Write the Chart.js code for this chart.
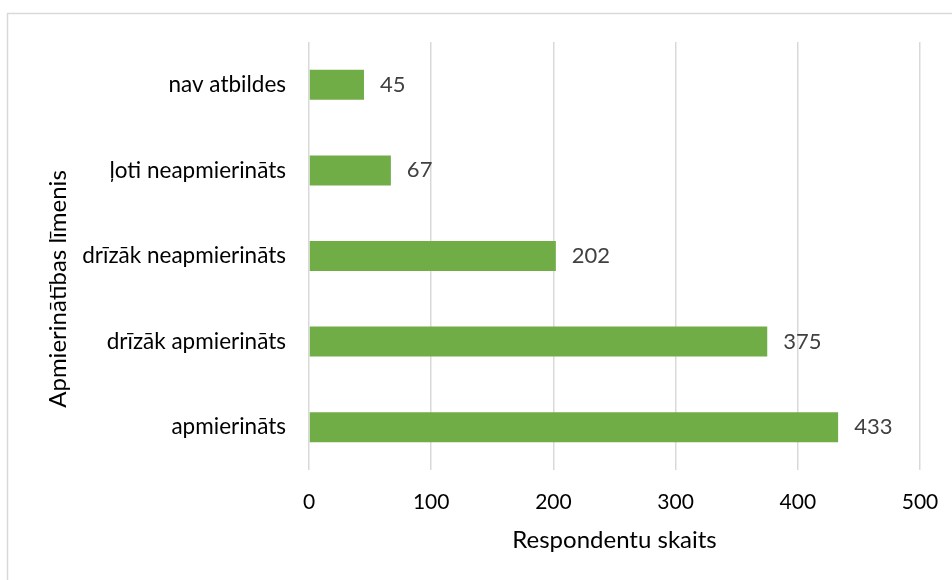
<!DOCTYPE html>
<html>
<head>
<meta charset="utf-8">
<script src="https://cdn.jsdelivr.net/npm/chart.js@4.4.1/dist/chart.umd.min.js"></script>
<style>
    html, body { margin: 0; padding: 0; background: #ffffff; }
    #wrap { width: 952px; height: 580px; }
</style>
</head>
<body>
<div id="wrap"><canvas id="grafiks" width="952" height="580"></canvas></div>
<script>
// dati
const kategorijas = ['nav atbildes', 'ļoti neapmierināts', 'drīzāk neapmierināts', 'drīzāk apmierināts', 'apmierināts'];
const respondenti = [45, 67, 202, 375, 433];
const xTicks = [0, 100, 200, 300, 400, 500];

const fonts = 'Lato, "Open Sans", sans-serif';

// rāmis ap diagrammu
const ramisPlugin = {
    id: 'ramis',
    beforeDraw(chart) {
        const ctx = chart.ctx;
        ctx.save();
        ctx.strokeStyle = '#d9d9d9';
        ctx.lineWidth = 1.5;
        ctx.strokeRect(7.5, 13.5, 1200, 1000);
        ctx.restore();
    }
};

// vērtības pie stabiņiem
const vertibasPlugin = {
    id: 'vertibas',
    afterDatasetsDraw(chart) {
        const ctx = chart.ctx;
        const meta = chart.getDatasetMeta(0);
        ctx.save();
        ctx.font = '22px ' + fonts;
        ctx.fillStyle = '#404040';
        ctx.textAlign = 'left';
        ctx.textBaseline = 'middle';
        meta.data.forEach((bar, i) => {
            ctx.fillText(String(respondenti[i]), bar.x + 16, bar.y);
        });
        ctx.restore();
    }
};

// y ass nosaukums (Excel to centrē nedaudz zemāk)
const yNosaukumsPlugin = {
    id: 'yNosaukums',
    afterDraw(chart) {
        const ctx = chart.ctx;
        ctx.save();
        ctx.translate(58, 289);
        ctx.rotate(-Math.PI / 2);
        ctx.font = '24px ' + fonts;
        ctx.fillStyle = '#000000';
        ctx.textAlign = 'center';
        ctx.textBaseline = 'middle';
        ctx.fillText('Apmierinātības līmenis', 0, 0);
        ctx.restore();
    }
};

document.addEventListener('DOMContentLoaded', function() {
    const ctx = document.getElementById('grafiks').getContext('2d');
    new Chart(ctx, {
        type: 'bar',
        data: {
            labels: kategorijas,
            datasets: [{
                label: 'Respondentu skaits',
                data: respondenti,
                backgroundColor: '#70ad47',
                borderWidth: 0,
                barPercentage: 0.35,
                categoryPercentage: 1
            }]
        },
        options: {
            indexAxis: 'y',
            responsive: false,
            animation: false,
            layout: {
                padding: { top: 42, right: 32, bottom: 0, left: 0 }
            },
            plugins: {
                legend: { display: false },
                tooltip: { enabled: false }
            },
            scales: {
                x: {
                    min: xTicks[0],
                    max: xTicks[xTicks.length - 1],
                    afterBuildTicks(scale) {
                        scale.ticks = xTicks.map(v => ({ value: v }));
                    },
                    afterFit(scale) {
                        scale.height = 110;
                        scale.paddingLeft = 0;
                        scale.paddingRight = 0;
                    },
                    grid: {
                        color: '#d9d9d9',
                        lineWidth: 1.5,
                        drawTicks: false
                    },
                    border: { display: false },
                    ticks: {
                        padding: 20,
                        color: '#000000',
                        font: { family: fonts, size: 21 }
                    },
                    title: {
                        display: true,
                        text: 'Respondentu skaits',
                        color: '#000000',
                        font: { family: fonts, size: 24 },
                        padding: { top: 0, bottom: 25 }
                    }
                },
                y: {
                    afterFit(scale) {
                        scale.width = 309;
                    },
                    grid: { display: false, drawTicks: false },
                    border: { display: false },
                    ticks: {
                        padding: 23,
                        color: '#000000',
                        font: { family: fonts, size: 22.5 }
                    }
                }
            }
        },
        plugins: [ramisPlugin, vertibasPlugin, yNosaukumsPlugin]
    });
});
</script>
</body>
</html>
